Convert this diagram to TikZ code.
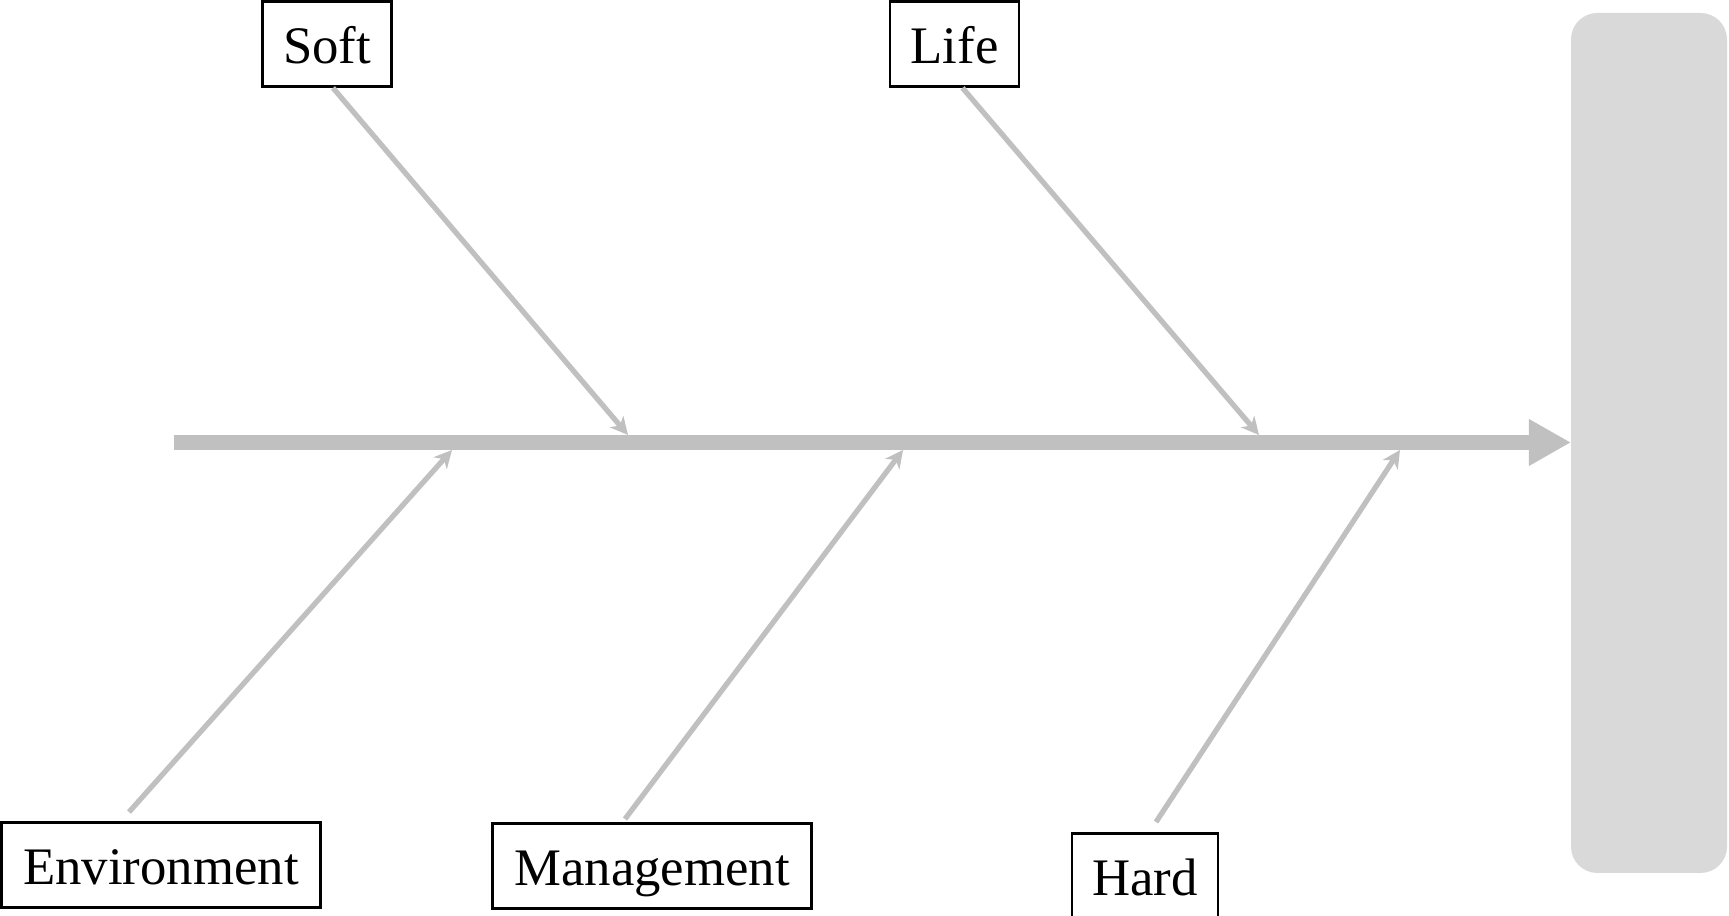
\documentclass[tikz,border=0pt]{standalone}
\usepackage{fontspec}
\setmainfont{Liberation Serif}
\usepackage{tikz}
\usetikzlibrary{arrows.meta,positioning,calc}

\begin{document}
\begin{tikzpicture}[x=0.01cm, y=0.01cm,
  cause/.style={draw, line width=0.8pt, inner sep=0pt, minimum height=0.85cm,
    text height=11pt, text depth=0pt, font=\fontsize{15}{18}\selectfont},
  bone/.style={draw=boneGray, line width=1.5pt,
    -{Stealth[length=5pt, width=5pt, inset=1.5pt]}}]
  \definecolor{boneGray}{HTML}{C0C0C0}
  \definecolor{headGray}{HTML}{D9D9D9}
  \useasboundingbox (0,0) rectangle (1729,916);

  % Define nodes

  \node[cause, minimum width=1.29cm] (soft) at (327,872) {Soft};
  \node[cause, minimum width=1.29cm] (life) at (954.5,872) {Life};
  \node[cause, minimum width=3.19cm] (env) at (161,51) {Environment};
  \node[cause, minimum width=3.19cm] (mgmt) at (652,50) {Management};
  \node[cause, minimum width=1.46cm] (hard) at (1145,40) {Hard};

  % head box and spine
  \fill[headGray, rounded corners=7.5pt] (1571,43) rectangle (1727,903);
  \coordinate (tail) at (174,473.5);
  \coordinate (head) at (1571,473.5);
  \draw[boneGray, line width=4.3pt, -{Triangle[length=12pt, width=12.5pt]}] (tail) -- (head);

  % points where the bones meet the spine
  \coordinate (softIn) at (628,481);
  \coordinate (lifeIn) at (1259,481);
  \coordinate (envIn) at (452,466);
  \coordinate (mgmtIn) at (903,466);
  \coordinate (hardIn) at (1400,466);

  % Draw arrows
  \draw[bone] ($(soft.south)+(6,0)$) -- (softIn);
  \draw[bone] ($(life.south)+(8,0)$) -- (lifeIn);
  \draw[bone] ($(env.north)+(-32,9)$) -- (envIn);
  \draw[bone] ($(mgmt.north)+(-27,3)$) -- (mgmtIn);
  \draw[bone] ($(hard.north)+(11,10)$) -- (hardIn);
\end{tikzpicture}
\end{document}
